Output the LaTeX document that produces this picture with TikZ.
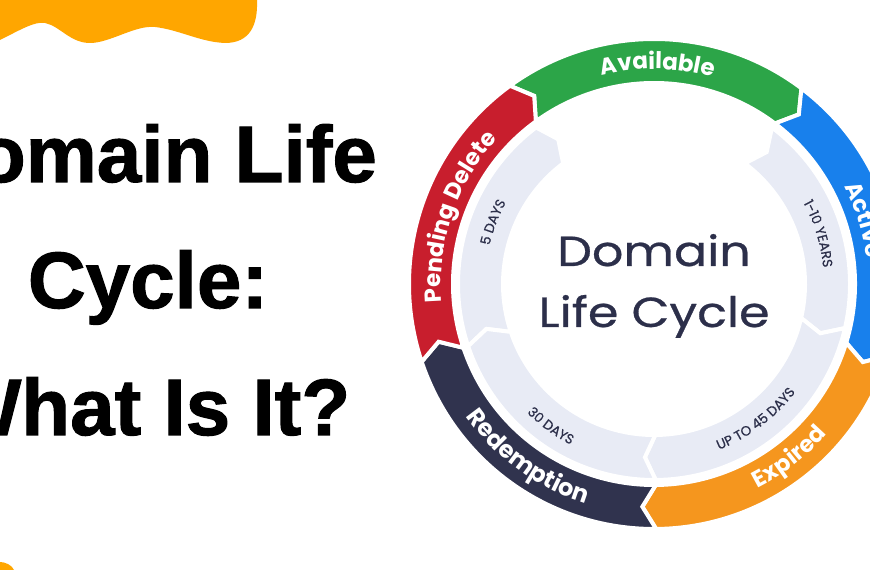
\documentclass[tikz,border=0pt]{standalone}
\usepackage{fontspec}
\usetikzlibrary{decorations.text}
\newfontfamily\titlefont{Liberation Sans}[BoldFeatures={FakeBold=1.3}]
\newfontfamily\popfont{Poppins}
\newfontfamily\popmed{Poppins}[FakeBold=0.6]
\definecolor{blobcol}{RGB}{255,166,0}
\definecolor{cgreen}{RGB}{44,165,72}
\definecolor{cblue}{RGB}{24,128,236}
\definecolor{corange}{RGB}{245,150,30}
\definecolor{cnavy}{RGB}{48,51,78}
\definecolor{cred}{RGB}{200,30,45}
\definecolor{cgray}{RGB}{232,235,245}
\definecolor{ctext}{RGB}{44,47,74}
\newcommand\ringseg[5]{%
  \fill[#1, draw=white, line width=4, line join=miter]
    (#2:#4) arc[start angle=#2, end angle=#3, radius=#4]
    -- ({#3-3.5}:{(#4+#5)/2}) -- (#3:#5)
    arc[start angle=#3, end angle=#2, radius=#5]
    -- ({#2-3.5}:{(#4+#5)/2}) -- cycle;}
\tikzset{
  titletext/.style={font=\titlefont\bfseries\fontsize{80}{80}\selectfont, text=black, inner sep=0pt, anchor=base},
  centertext/.style={font=\popmed\fontsize{42}{42}\selectfont, text=ctext, inner sep=0pt, anchor=base, xscale=1.17},
  bandlabel/.style={decorate, decoration={text along path, text align=center, text color=white}},
  graylabel/.style={decorate, decoration={text along path, text align=center, text color=ctext}},
}
\begin{document}
\begin{tikzpicture}[x=1pt,y=1pt]
\useasboundingbox (0,0) rectangle (870,570);
\clip (0,0) rectangle (870,570);
\fill[white] (0,0) rectangle (870,570);
% orange blobs
\fill[blobcol] (0,570) -- (0,530) .. controls (20,540) and (35,549) .. (45,547)
  .. controls (60,544) and (70,527) .. (90,527)
  .. controls (110,527) and (135,545) .. (155,543)
  .. controls (180,540) and (200,528) .. (225,527)
  .. controls (250,527) and (258,545) .. (257,570) -- cycle;
\fill[blobcol] (0,0) -- (14,0) .. controls (12,5) and (5,8) .. (0,8) -- cycle;
% title
\node[titletext] (t1) at (148,388) {Domain Life};
\node[titletext] (t2) at (148,262) {Cycle:};
\node[titletext] (t3) at (148,135) {What Is It?};
\begin{scope}[shift={(654,286)}]
  % outer coloured ring
  \ringseg{cgreen}{126}{53}{245}{201}
  \ringseg{cblue}{53}{-17}{245}{201}
  \ringseg{corange}{-17}{-89.5}{245}{201}
  \ringseg{cnavy}{270.5}{198.5}{245}{201}
  \ringseg{cred}{198.5}{126}{245}{201}
  % inner grey ring
  \ringseg{cgray}{198.5}{127}{196}{151}
  \ringseg{cgray}{53}{-13}{196}{151}
  \ringseg{cgray}{-13}{-89.5}{196}{151}
  \ringseg{cgray}{270.5}{198.5}{196}{151}
  % band labels
  \path[bandlabel, decoration={text={|\popfont\bfseries\fontsize{23}{23}\selectfont|Available}}]
    (126:215) arc[start angle=126, end angle=52, radius=215];
  \path[bandlabel, decoration={text={|\popfont\bfseries\fontsize{23}{23}\selectfont|Active}}]
    (52:214) arc[start angle=52, end angle=-18, radius=214];
  \path[bandlabel, decoration={text={|\popfont\bfseries\fontsize{23}{23}\selectfont|Expired}}]
    (-88:229) arc[start angle=-88, end angle=-16, radius=229];
  \path[bandlabel, decoration={text={|\popfont\bfseries\fontsize{24}{24}\selectfont|Redemption}}]
    (199:230) arc[start angle=199, end angle=269, radius=230];
  \path[bandlabel, decoration={text={|\popfont\bfseries\fontsize{23}{23}\selectfont|Pending Delete}}]
    (196:213) arc[start angle=196, end angle=126, radius=213];
  % grey labels
  \path[graylabel, decoration={text={|\popmed\fontsize{13.5}{13.5}\selectfont|5 DAYS}}]
    (194:169) arc[start angle=194, end angle=124, radius=169];
  \path[graylabel, decoration={text={|\popmed\fontsize{13.5}{13.5}\selectfont|1-10 YEARS}}]
    (52:170) arc[start angle=52, end angle=-18, radius=170];
  \path[graylabel, decoration={text={|\popmed\fontsize{13.5}{13.5}\selectfont|UP TO 45 DAYS}}]
    (-88:178) arc[start angle=-88, end angle=-18, radius=178];
  \path[graylabel, decoration={text={|\popmed\fontsize{13.5}{13.5}\selectfont|30 DAYS}}]
    (199:181) arc[start angle=199, end angle=269, radius=181];
  % centre text
  \node[centertext] (c1) at (0,18) {Domain};
  \node[centertext] (c2) at (0,-43) {Life Cycle};
\end{scope}
\end{tikzpicture}
\end{document}
